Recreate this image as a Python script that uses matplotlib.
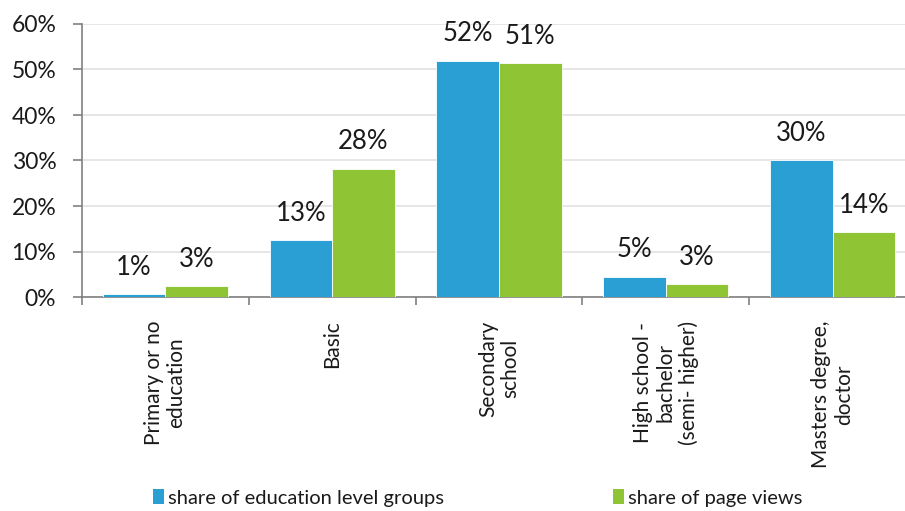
import matplotlib
matplotlib.use("Agg")
import matplotlib.pyplot as plt
from matplotlib.patches import Patch
import numpy as np

categories = ["Primary or no\neducation", "Basic", "Secondary\nschool",
              "High school -\nbachelor\n(semi- higher)", "Masters degree,\ndoctor"]
share_groups = [0.6, 12.5, 51.9, 4.5, 30.0]
share_views = [2.4, 28.2, 51.4, 2.8, 14.2]
labels_groups = ["1%", "13%", "52%", "5%", "30%"]
labels_views = ["3%", "28%", "51%", "3%", "14%"]
yticks = [0, 10, 20, 30, 40, 50, 60]
ytick_labels = ["0%", "10%", "20%", "30%", "40%", "50%", "60%"]
series_names = ["share of education level groups", "share of page views"]

blue = "#2a9fd3"
green = "#8fc434"
txt = "#1a1a1a"
font = ["Lato", "DejaVu Sans"]
plt.rcParams["font.family"] = font

fig = plt.figure(figsize=(9.05, 5.11), dpi=100)
W, H = 905, 511
ax = fig.add_axes([82 / W, 1 - 297 / H, 834 / W, 273 / H])

x = np.arange(len(categories))
bw = 0.375
b1 = ax.bar(x - bw / 2, share_groups, bw, color=blue, edgecolor="white", linewidth=0.6, zorder=3)
b2 = ax.bar(x + bw / 2, share_views, bw, color=green, edgecolor="white", linewidth=0.6, zorder=3)

for bars, labs in ((b1, labels_groups), (b2, labels_views)):
    for rect, lab in zip(bars, labs):
        ax.annotate(lab, (rect.get_x() + rect.get_width() / 2, rect.get_height()),
                    xytext=(0, 27), textcoords="offset pixels",
                    ha="center", va="center", fontsize=18.5, color=txt)

ax.set_xlim(-0.5, len(categories) - 0.5)
ax.set_ylim(0, 60)
ax.set_yticks(yticks)
ax.set_yticklabels(ytick_labels, fontsize=16.5, color=txt)
ax.yaxis.grid(True, color="#e4e4e4", linewidth=1.3, zorder=0)
ax.set_axisbelow(True)

ax.set_xticks(x)
ax.set_xticklabels(categories, rotation=90, fontsize=15, color=txt,
                   ha="center", va="top", multialignment="center", linespacing=1.15)
ax.tick_params(axis="x", which="major", length=0, pad=17)
ax.set_xticks(np.arange(-0.5, len(categories), 1.0), minor=True)
ax.tick_params(axis="x", which="minor", length=6, width=1.2, color="#808080")
ax.tick_params(axis="y", length=6.5, width=1.2, color="#808080", pad=12)

for s in ["top", "right"]:
    ax.spines[s].set_visible(False)
for s in ["left", "bottom"]:
    ax.spines[s].set_color("#808080")
    ax.spines[s].set_linewidth(1.2)

for name, col, xpos in zip(series_names, [blue, green], [153, 613]):
    leg = fig.legend(handles=[Patch(facecolor=col, label=name)],
                     loc="center left", bbox_to_anchor=(xpos / W, 1 - 498 / H),
                     frameon=False, fontsize=14.5, handlelength=0.55, handleheight=0.75,
                     handletextpad=0.2, borderpad=0, borderaxespad=0)
    for t in leg.get_texts():
        t.set_color(txt)

fig.savefig("out.png", dpi=100)
